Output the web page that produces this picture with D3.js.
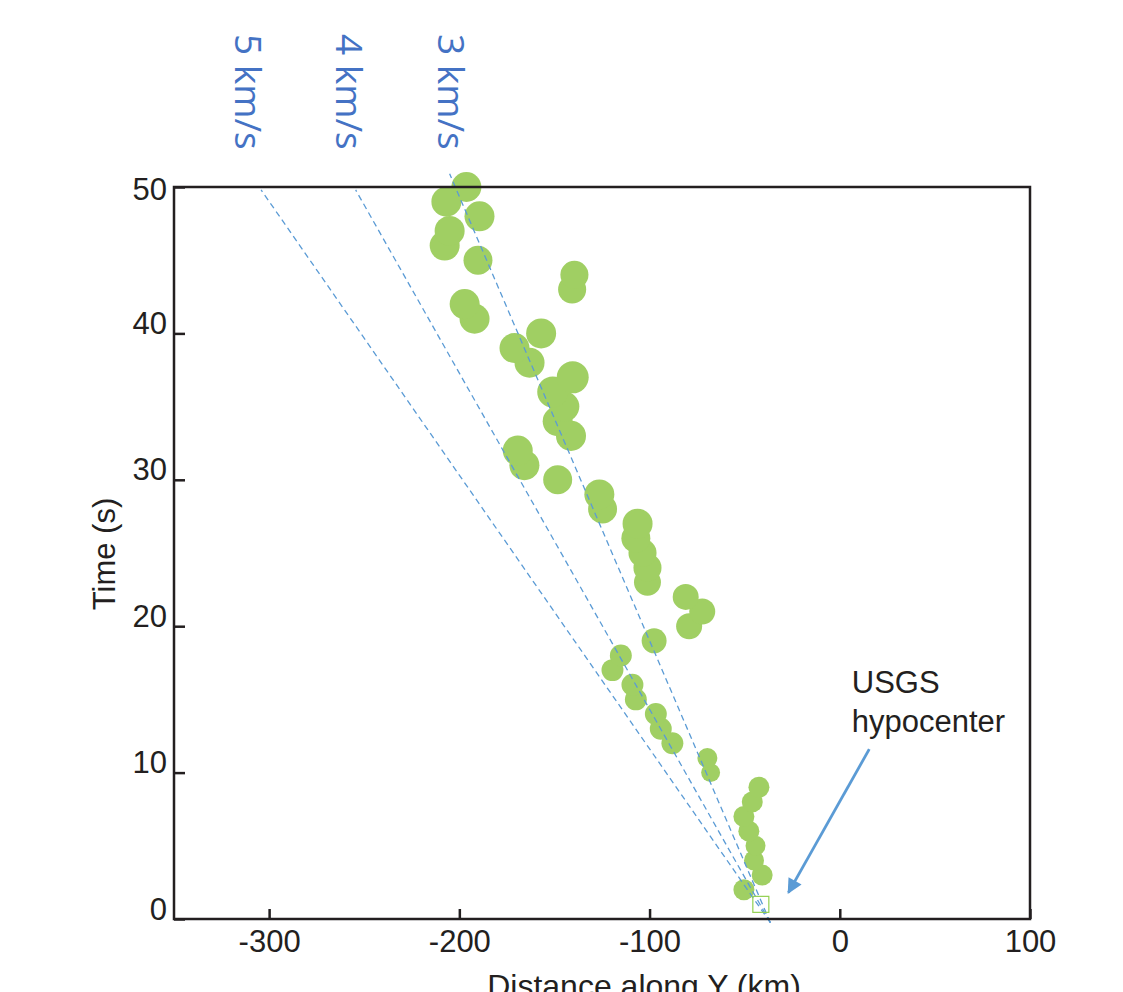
<!DOCTYPE html>
<html>
<head>
<meta charset="utf-8">
<script src="https://cdn.jsdelivr.net/npm/d3@7"></script>
<style>
  html, body { margin: 0; padding: 0; background: #ffffff; }
  svg { display: block; }
</style>
</head>
<body>
<div id="viz"></div>
<script>
// ========================================
// Data
// ========================================

// time of each back-projection peak (s)
var times = [2, 3, 4, 5, 6, 7, 8, 9, 10, 11, 12, 13, 14, 15, 16, 17, 18, 19, 20, 21,
             22, 23, 24, 25, 26, 27, 28, 29, 30, 31, 32, 33, 34, 35, 36, 37, 38, 39, 40,
             41, 42, 43, 44, 45, 46, 47, 48, 49, 50];

// distance along Y (km)
var distances = [-50.4, -40.8, -45.1, -44.3, -47.8, -50.4, -46.0, -42.5, -67.9, -69.6,
                 -88.0, -94.1, -96.7, -107.2, -109.0, -119.5, -115.1, -97.6, -79.2, -72.3,
                 -81.0, -101.1, -101.1, -103.7, -107.2, -106.3, -124.7, -126.4, -148.3, -165.8,
                 -169.3, -141.3, -148.3, -144.8, -150.9, -140.4, -163.1, -171.0, -157.0, -192.0,
                 -197.2, -140.7, -139.5, -190.2, -207.7, -205.1, -189.4, -206.8, -196.3];

// relative peak power (marker area)
var power = [0.43, 0.43, 0.39, 0.39, 0.43, 0.43, 0.43, 0.43, 0.35, 0.39,
             0.47, 0.47, 0.47, 0.47, 0.47, 0.47, 0.47, 0.61, 0.66, 0.66,
             0.66, 0.71, 0.77, 0.77, 0.82, 0.88, 0.82, 0.88, 0.82, 0.88,
             0.88, 0.88, 0.88, 0.88, 0.94, 1.00, 0.88, 0.88, 0.88, 0.88,
             0.88, 0.77, 0.77, 0.82, 0.88, 0.88, 0.88, 0.88, 0.88];

// rupture velocity reference lines
var velocities = ['5 km/s', '4 km/s', '3 km/s'];
var lineStart = {x: -36.5, t: -0.25};
var lineEndX = [-304.2, -254.5, -205.1];
var lineEndT = [49.8, 49.8, 50.9];

// USGS hypocenter
var hypocenter = {x: -41.5, t: 1.0};

var xTicks = [-300, -200, -100, 0, 100];
var yTicks = [0, 10, 20, 30, 40, 50];

// ========================================
// Styles
// ========================================

var width = 1123,
    height = 992;

var axis_color = '#231f20',
    dot_color = '#a0cf63',
    line_color = '#5b9bd5',
    label_color = '#4472c4',
    hypo_color = '#92d050';

var axis_font = '"Liberation Sans", Arial, Helvetica, sans-serif';

var x = d3.scaleLinear().domain([-350, 100]).range([174, 1030]);
var y = d3.scaleLinear().domain([0, 50]).range([919, 187]);
var r = d3.scaleSqrt().domain([0, 1]).range([0, 16]);

var svg = d3.select('#viz')
   .append('svg')
   .attr('width', width)
   .attr('height', height)
   .style('background-color', '#ffffff');

var points = times.map((t, i) => ({t: t, x: distances[i], p: power[i]}));

// ========================================
// Peaks
// ========================================

svg.append('g')
   .selectAll('circle')
   .data(points)
   .enter()
   .append('circle')
   .attr('cx', d => x(d.x))
   .attr('cy', d => y(d.t))
   .attr('r', d => r(d.p))
   .style('fill', dot_color);

// ========================================
// Velocity lines + labels
// ========================================

svg.append('g')
   .selectAll('line')
   .data(velocities)
   .enter()
   .append('line')
   .attr('x1', x(lineStart.x))
   .attr('y1', y(lineStart.t))
   .attr('x2', (d, i) => x(lineEndX[i]))
   .attr('y2', (d, i) => y(lineEndT[i]))
   .style('stroke', line_color)
   .style('stroke-width', 1.3)
   .style('stroke-dasharray', '6,4');

var labelX = [-317.8, -264.9, -211.3];

svg.append('g')
   .selectAll('text')
   .data(velocities)
   .enter()
   .append('text')
   .attr('transform', (d, i) => `translate(${x(labelX[i])}, ${y(50) - 153})rotate(90)`)
   .style('font-family', '"Open Sans", sans-serif')
   .style('font-size', '37px')
   .style('fill', label_color)
   .text(d => d);

// hypocenter marker
svg.append('rect')
   .attr('x', x(hypocenter.x) - 8)
   .attr('y', y(hypocenter.t) - 8)
   .attr('width', 16)
   .attr('height', 16)
   .style('fill', 'none')
   .style('stroke', hypo_color)
   .style('stroke-width', 1.2);

// ========================================
// Axes + frame
// ========================================

var xAxis = svg.append('g')
   .attr('transform', `translate(0, ${y(0)})`)
   .call(d3.axisBottom(x).tickValues(xTicks).tickFormat(d => String(d))
      .tickSize(-10).tickSizeOuter(0).tickPadding(11));

var yAxis = svg.append('g')
   .attr('transform', `translate(${x(-350)}, 0)`)
   .call(d3.axisLeft(y).tickValues(yTicks).tickFormat(d => String(d))
      .tickSize(-11).tickSizeOuter(0).tickPadding(7));

[xAxis, yAxis].forEach(g => {
   g.select('.domain').remove();
   g.selectAll('line').style('stroke', axis_color).style('stroke-width', 2.5);
   g.selectAll('text')
      .style('font-family', axis_font)
      .style('font-size', '31px')
      .style('fill', axis_color);
});

yAxis.selectAll('text').attr('dy', d => d === 50 ? '0.39em' : '0em');

svg.append('rect')
   .attr('x', x(-350))
   .attr('y', y(50))
   .attr('width', x(100) - x(-350))
   .attr('height', y(0) - y(50))
   .style('fill', 'none')
   .style('stroke', axis_color)
   .style('stroke-width', 2.5);

// x title sits partly below the page edge, as in the source figure
svg.append('text')
   .attr('x', 644)
   .attr('y', y(0) + 78)
   .attr('text-anchor', 'middle')
   .style('font-family', axis_font)
   .style('font-size', '32px')
   .style('fill', axis_color)
   .text('Distance along Y (km)');

svg.append('text')
   .attr('transform', `translate(115, ${(y(0) + y(50)) / 2 + 1})rotate(-90)`)
   .attr('text-anchor', 'middle')
   .style('font-family', axis_font)
   .style('font-size', '31px')
   .style('fill', axis_color)
   .text('Time (s)');

// ========================================
// USGS hypocenter annotation
// ========================================

svg.append('defs')
   .append('marker')
   .attr('id', 'arrow')
   .attr('viewBox', '0 0 10 10')
   .attr('refX', 9)
   .attr('refY', 5)
   .attr('markerUnits', 'userSpaceOnUse')
   .attr('markerWidth', 17)
   .attr('markerHeight', 15)
   .attr('orient', 'auto')
   .append('path')
   .attr('d', 'M0,0L10,5L0,10Z')
   .style('fill', line_color);

svg.append('line')
   .attr('x1', x(15.5))
   .attr('y1', y(11.6))
   .attr('x2', x(-27))
   .attr('y2', y(1.8))
   .attr('marker-end', 'url(#arrow)')
   .style('stroke', line_color)
   .style('stroke-width', 2.8);

var note = svg.append('text')
   .attr('x', x(6.3))
   .attr('y', y(0) - 226)
   .style('font-family', axis_font)
   .style('font-size', '31px')
   .style('fill', axis_color);

note.append('tspan').attr('x', x(6.3)).text('USGS');
note.append('tspan').attr('x', x(6.3)).attr('dy', 38.5).text('hypocenter');
</script>
</body>
</html>
